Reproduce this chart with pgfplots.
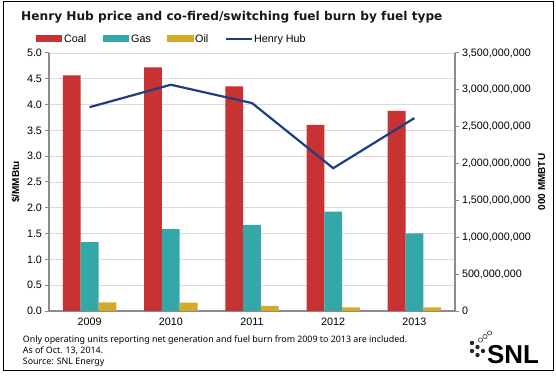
\documentclass[border=0pt]{standalone}
\usepackage{pgfplots}
\pgfplotsset{compat=1.18}
\usepackage{fontspec}
\setmainfont{Liberation Sans}
\newfontfamily\titlefont{DejaVu Sans}
\newfontfamily\notefont{Noto Sans}
\definecolor{coal}{RGB}{200,50,50}
\definecolor{gas}{RGB}{52,168,168}
\definecolor{oil}{RGB}{212,170,40}
\definecolor{hh}{RGB}{30,62,130}
\definecolor{axgrey}{RGB}{140,140,140}
\definecolor{gridgrey}{RGB}{218,218,218}
\begin{document}
\begin{tikzpicture}
\path[use as bounding box, fill=white] (0,0) rectangle (556bp,378bp);
\pgfplotsset{base/.style={scale only axis, width=406bp, height=258bp,
  at={(49bp,67bp)}, anchor=south west, xmin=-0.5, xmax=4.5,
  axis line style={-, axgrey, line width=1.2bp},
  tick style={axgrey, line width=1bp}, major tick length=3.5bp, tick align=outside,
  ticklabel style={font=\fontsize{10.8}{12}\selectfont},
  /pgf/number format/assume math mode=true}}
% grid and left axis
\begin{axis}[base, ymin=0, ymax=5,
  axis x line*=bottom, axis y line*=left,
  ytick={0,0.5,1,1.5,2,2.5,3,3.5,4,4.5,5},
  yticklabel={\pgfmathprintnumber[fixed,fixed zerofill,precision=1]{\tick}},
  ymajorgrids, grid style={gridgrey, line width=0.9bp},
  xtick={0,1,2,3,4}, xticklabels={2009,2010,2011,2012,2013},
  x tick style={draw=none},
  extra x ticks={0.5,1.5,2.5,3.5}, extra x tick labels={},
  extra x tick style={tick style={axgrey, line width=1bp}, major tick length=3.5bp},
  ylabel={\$/MMBtu},
  every axis y label/.style={at={(axis description cs:0,0.5)}, xshift=-33.3bp, rotate=90, anchor=center, font=\bfseries\fontsize{10}{11}\selectfont}]
\addplot[draw=none] coordinates {(0,0)};
\end{axis}
% bars on the right axis
\begin{axis}[base, ymin=0, ymax=3500000000,
  axis x line=none, axis y line*=right,
  ybar=0pt, bar width=17.8bp,
  ytick={0,500000000,1000000000,1500000000,2000000000,2500000000,3000000000,3500000000},
  yticklabels={0,{500,000,000},{1,000,000,000},{1,500,000,000},{2,000,000,000},{2,500,000,000},{3,000,000,000},{3,500,000,000}},
  scaled y ticks=false,
  ylabel={000 MMBTU},
  every axis y label/.style={at={(axis description cs:1,0.5)}, xshift=86.7bp, rotate=90, anchor=center, font=\bfseries\fontsize{10}{11}\selectfont}]
\addplot[fill=coal, draw=none] coordinates {(0,3196000000) (1,3305000000) (2,3046000000) (3,2526000000) (4,2716000000)};
\addplot[fill=gas, draw=none] coordinates {(0,934000000) (1,1111000000) (2,1170000000) (3,1347000000) (4,1053000000)};
\addplot[fill=oil, draw=none] coordinates {(0,118000000) (1,114000000) (2,68000000) (3,50000000) (4,50000000)};
\end{axis}
% Henry Hub line on the left axis
\begin{axis}[base, ymin=0, ymax=5, hide axis]
\addplot[hh, line width=2.2bp] coordinates {(0,3.95) (1,4.385) (2,4.03) (3,2.767) (4,3.738)};
\end{axis}
% frame
\draw[black, line width=1bp] (3.5bp,7bp) rectangle (553bp,376bp);
% title
\node[anchor=base west, inner sep=0pt, text=black!90, font=\titlefont\bfseries\fontsize{12.2}{14}\selectfont] at (21bp,357.3bp) {Henry Hub price and co-fired/switching fuel burn by fuel type};
% legend
\fill[coal] (35.6bp,335.5bp) rectangle (62.4bp,342.5bp);
\node[anchor=base west, inner sep=0pt, font=\fontsize{10.8}{12}\selectfont] at (64bp,335bp) {Coal};
\fill[gas] (102.6bp,335.5bp) rectangle (129bp,342.5bp);
\node[anchor=base west, inner sep=0pt, font=\fontsize{10.8}{12}\selectfont] at (131bp,335bp) {Gas};
\fill[oil] (166.8bp,335.5bp) rectangle (193.5bp,342.5bp);
\node[anchor=base west, inner sep=0pt, font=\fontsize{10.8}{12}\selectfont] at (195bp,335bp) {Oil};
\draw[hh, line width=2.2bp] (225.6bp,339bp) -- (252.3bp,339bp);
\node[anchor=base west, inner sep=0pt, font=\fontsize{10.8}{12}\selectfont] at (254bp,335bp) {Henry Hub};
% footnotes
\node[anchor=base west, inner sep=0pt, font=\notefont\fontsize{8.9}{10}\selectfont] at (22.7bp,35.6bp) {Only operating units reporting net generation and fuel burn from 2009 to 2013 are included.};
\node[anchor=base west, inner sep=0pt, font=\notefont\fontsize{8.9}{10}\selectfont] at (22.7bp,24.6bp) {As of Oct. 13, 2014.};
\node[anchor=base west, inner sep=0pt, font=\notefont\fontsize{8.9}{10}\selectfont] at (22.7bp,13.8bp) {Source: SNL Energy};
% SNL logo
\node[anchor=base west, inner sep=0pt, font=\bfseries\fontsize{26}{26}\selectfont] at (487bp,15bp) {SNL};
\foreach \x/\y in {472/35, 477.5/31, 472/27, 483/27, 477.5/23}{\fill[black!85] (\x bp,\y bp) circle (2.2bp);}
\foreach \x/\y in {480.5/38, 485/41.5, 489.5/45}{\draw[black!70, line width=0.7bp] (\x bp,\y bp) circle (2.1bp);}
\end{tikzpicture}
\end{document}
